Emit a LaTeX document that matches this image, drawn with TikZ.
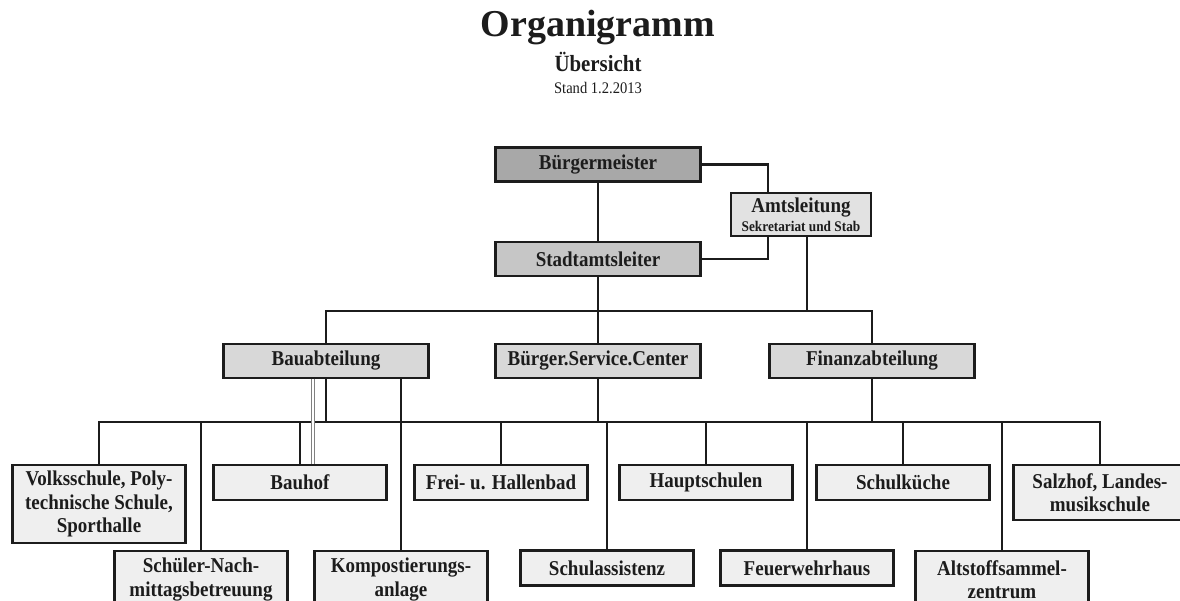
\documentclass[tikz,border=0pt]{standalone}
\usepackage{fontspec}
\setmainfont{Liberation Serif}
\newfontfamily\boxfont{Liberation Serif}[FakeStretch=0.9]
\definecolor{chefgrau}{HTML}{A8A8A8}
\definecolor{leitgrau}{HTML}{C6C6C6}
\definecolor{abtgrau}{HTML}{D8D8D8}
\definecolor{amtgrau}{HTML}{E2E2E2}
\definecolor{stellegrau}{HTML}{EFEFEF}
\definecolor{tinte}{HTML}{1C1C1C}
\begin{document}
\begin{tikzpicture}[x=0.025cm, y=-0.025cm, line width=1.7pt, draw=tinte,
  box/.style={draw=tinte, line width=1.8pt, inner sep=0pt, align=center, text=tinte,
    font=\boxfont\bfseries\fontsize{15}{16.5}\selectfont},
  chefbox/.style={box, minimum width=5.12cm, minimum height=0.86cm},
  stellebox/.style={box, fill=stellegrau, minimum width=4.33cm, minimum height=0.87cm},
  zweizeilig/.style={stellebox, minimum height=1.43cm},
  dreizeilig/.style={stellebox, minimum height=1.95cm},
  duenn/.style={line width=0.9pt},
  doppelt/.style={draw=gray, line width=0.5pt, double=white, double distance=1.3pt}]
\useasboundingbox (0,0) rectangle (1180,600);
\fill[white] (0,0) rectangle (1180,600);
\clip (0,0) rectangle (1180,600);

\node[anchor=base, text=tinte, font=\bfseries\fontsize{27}{30}\selectfont] (titel) at (598,36){Organigramm};
\node[anchor=base, text=tinte, font=\boxfont\bfseries\fontsize{16.5}{18}\selectfont] (sub) at (598,71){Übersicht};
\node[anchor=base, text=tinte, font=\boxfont\fontsize{11.5}{12}\selectfont] (stand) at (598,93){Stand 1.2.2013};

\node[chefbox, fill=chefgrau] (bgm) at (598,164.5){Bürgermeister};
\node[box, fill=amtgrau, minimum width=3.5cm, minimum height=1.075cm] (amt) at (801,214.5){Amtsleitung\\[-3pt]{\fontsize{10.5}{11}\selectfont Sekretariat und Stab}};
\node[chefbox, fill=leitgrau] (stadt) at (598,259){Stadtamtsleiter};

\node[chefbox, fill=abtgrau] (bau) at (326,361){Bauabteilung};
\node[chefbox, fill=abtgrau] (bsc) at (598,361){Bürger.Service.Center};
\node[chefbox, fill=abtgrau] (fin) at (872,361){Finanzabteilung};

\node[dreizeilig] (volks) at (99,504){Volksschule, Poly-\\technische Schule,\\Sporthalle};
\node[stellebox] (bauhof) at (300,482.5){Bauhof};
\node[stellebox] (frei) at (501,482.5){Frei- u. Hallenbad};
\node[stellebox] (haupt) at (706,482.5){Hauptschulen};
\node[stellebox] (kueche) at (903,482.5){Schulküche};
\node[zweizeilig, minimum height=1.37cm] (salz) at (1100,492.5){Salzhof, Landes-\\musikschule};

\node[zweizeilig] (schueler) at (201,579.5){Schüler-Nach-\\mittagsbetreuung};
\node[zweizeilig] (kompost) at (401,579.5){Kompostierungs-\\anlage};
\node[stellebox] (schulass) at (607,568){Schulassistenz};
\node[stellebox] (feuer) at (807,568){Feuerwehrhaus};
\node[zweizeilig] (alt) at (1002,579.5){Altstoffsammel-\\zentrum};

\coordinate (busA) at (0,311);
\coordinate (busB) at (0,422);
\coordinate (amtL) at (768,0);
\coordinate (amtR) at (807,0);
\coordinate (dbl) at (313,0);

\draw (bgm.south) -- (stadt.north);
\draw (bgm.east) -| (amtL |- amt.north);
\draw (stadt.east) -| (amtL |- amt.south);
\draw[duenn] (amtR |- amt.south) -- (amtR |- busA);
\draw (stadt.south) -- (bsc.north);
\draw (bau.north) |- (fin.north |- busA) -- (fin.north);

\foreach \abt in {bau, bsc, fin}
  \draw (\abt.south) -- (\abt.south |- busB);
\draw (volks.north) |- (salz.north |- busB) -- (salz.north);
\foreach \stelle in {bauhof, frei, haupt, kueche, schueler, schulass, feuer, alt}
  \draw (\stelle.north |- busB) -- (\stelle.north);
\draw (kompost.north |- bau.south) -- (kompost.north);
\draw[doppelt] (dbl |- bau.south) -- (dbl |- bauhof.north);
\end{tikzpicture}
\end{document}
